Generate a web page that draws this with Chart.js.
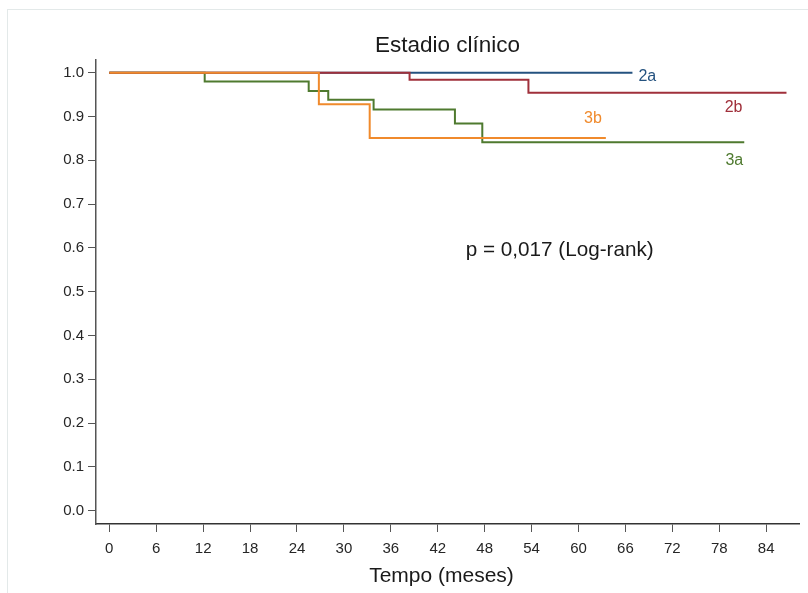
<!DOCTYPE html>
<html>
<head>
<meta charset="utf-8">
<style>
  html, body { margin: 0; padding: 0; background: #fff; }
  #wrap { width: 808px; height: 593px; }
</style>
</head>
<body>
<div id="wrap">
  <canvas id="km" width="808" height="593"></canvas>
</div>

<script src="https://cdn.jsdelivr.net/npm/chart.js@4/dist/chart.umd.min.js"></script>

<script>
    // Kaplan-Meier data (time in months, survival)
    var groups = ['2a', '2b', '3a', '3b'];

    var time2a = [0, 66.9];
    var surv2a = [1.0, 1.0];

    var time2b = [0, 38.4, 53.6, 86.6];
    var surv2b = [1.0, 0.984, 0.954, 0.954];

    var time3a = [0, 12.2, 25.5, 28.0, 33.8, 44.2, 47.7, 81.2];
    var surv3a = [1.0, 0.980, 0.958, 0.938, 0.916, 0.884, 0.841, 0.841];

    var time3b = [0, 26.8, 33.3, 63.5];
    var surv3b = [1.0, 0.928, 0.851, 0.851];

    var xTicks = [0, 6, 12, 18, 24, 30, 36, 42, 48, 54, 60, 66, 72, 78, 84];
    var yTicks = [0, 0.1, 0.2, 0.3, 0.4, 0.5, 0.6, 0.7, 0.8, 0.9, 1.0];

    var titleText = 'Estadio clínico';
    var xTitle = 'Tempo (meses)';
    var pText = 'p = 0,017 (Log-rank)';

    var colors = {
        '2a': '#24527f',
        '2b': '#a0303b',
        '3a': '#4f7a2f',
        '3b': '#f08a2c'
    };

    var FONT = '"Liberation Sans", Arial, sans-serif';

    function pts(t, s) {
        return t.map(function (v, i) { return { x: v, y: s[i] }; });
    }

    function ds(name, t, s) {
        return {
            label: name,
            data: pts(t, s),
            stepped: true,
            borderColor: colors[name],
            borderWidth: 2,
            pointRadius: 0,
            fill: false
        };
    }

    // label offsets (pixels) from each curve's last point
    var labelOffsets = {
        '2a': { dx: 6, dy: 4, align: 'left' },
        '2b': { dx: -44, dy: 15, align: 'right' },
        '3a': { dx: -1, dy: 18, align: 'right' },
        '3b': { dx: -4, dy: -19, align: 'right' }
    };

    var decorPlugin = {
        id: 'decorPlugin',
        beforeDraw: function (chart) {
            var c = chart.ctx;
            c.save();
            c.fillStyle = '#ffffff';
            c.fillRect(0, 0, chart.width, chart.height);
            c.strokeStyle = '#e3e9e9';
            c.lineWidth = 1;
            c.strokeRect(7.5, 9.5, chart.width + 20, chart.height + 20);
            c.restore();
        },
        afterDraw: function (chart) {
            var c = chart.ctx;
            var xs = chart.scales['x'];
            var ys = chart.scales['y'];
            var area = chart.chartArea;
            c.save();

            // title centred over the plot area
            c.fillStyle = '#1a1a1a';
            c.font = '22.5px ' + FONT;
            c.textAlign = 'center';
            c.textBaseline = 'middle';
            c.fillText(titleText, (area.left + area.right) / 2, 46);

            // x axis title
            c.font = '21px ' + FONT;
            c.fillText(xTitle, (area.left + area.right) / 2 - 6, 576);

            // group labels near the end of each curve
            c.font = '16px ' + FONT;
            chart.data.datasets.forEach(function (d) {
                var last = d.data[d.data.length - 1];
                var o = labelOffsets[d.label];
                c.fillStyle = colors[d.label];
                c.textAlign = o.align;
                c.fillText(d.label, xs.getPixelForValue(last.x) + o.dx, ys.getPixelForValue(last.y) + o.dy);
            });

            // log-rank p value
            c.fillStyle = '#1a1a1a';
            c.font = '20.7px ' + FONT;
            c.textAlign = 'center';
            c.fillText(pText, xs.getPixelForValue(57.6), ys.getPixelForValue(0.594));
            c.restore();
        }
    };

    new Chart(document.getElementById('km'), {
        type: 'line',
        data: {
            datasets: [
                ds('3b', time3b, surv3b),
                ds('2b', time2b, surv2b),
                ds('3a', time3a, surv3a),
                ds('2a', time2a, surv2a)
            ]
        },
        options: {
            responsive: false,
            animation: false,
            layout: { padding: { left: 0, top: 60, right: 9, bottom: 0 } },
            plugins: {
                legend: { display: false },
                tooltip: { enabled: false }
            },
            scales: {
                x: {
                    type: 'linear',
                    min: -1.7,
                    max: 88.2,
                    afterBuildTicks: function (s) {
                        s.ticks = xTicks.map(function (v) { return { value: v }; });
                    },
                    afterFit: function (s) { s.height = 69; },
                    border: { display: true, color: '#333', width: 1.5 },
                    grid: {
                        drawOnChartArea: false,
                        drawTicks: true,
                        tickLength: 8,
                        color: '#555'
                    },
                    ticks: {
                        autoSkip: false,
                        maxRotation: 0,
                        padding: 8,
                        color: '#262626',
                        font: { family: FONT, size: 15 },
                        callback: function (v) { return String(v); }
                    }
                },
                y: {
                    type: 'linear',
                    min: -0.0304,
                    max: 1.029,
                    afterBuildTicks: function (s) {
                        s.ticks = yTicks.map(function (v) { return { value: v }; });
                    },
                    afterFit: function (s) { s.width = 96; },
                    border: { display: true, color: '#555', width: 1.5 },
                    grid: {
                        drawOnChartArea: false,
                        drawTicks: true,
                        tickLength: 8,
                        color: '#555'
                    },
                    ticks: {
                        autoSkip: false,
                        padding: 4,
                        color: '#262626',
                        font: { family: FONT, size: 15 },
                        callback: function (v) { return Number(v).toFixed(1); }
                    }
                }
            }
        },
        plugins: [decorPlugin]
    });
</script>
</body>
</html>
